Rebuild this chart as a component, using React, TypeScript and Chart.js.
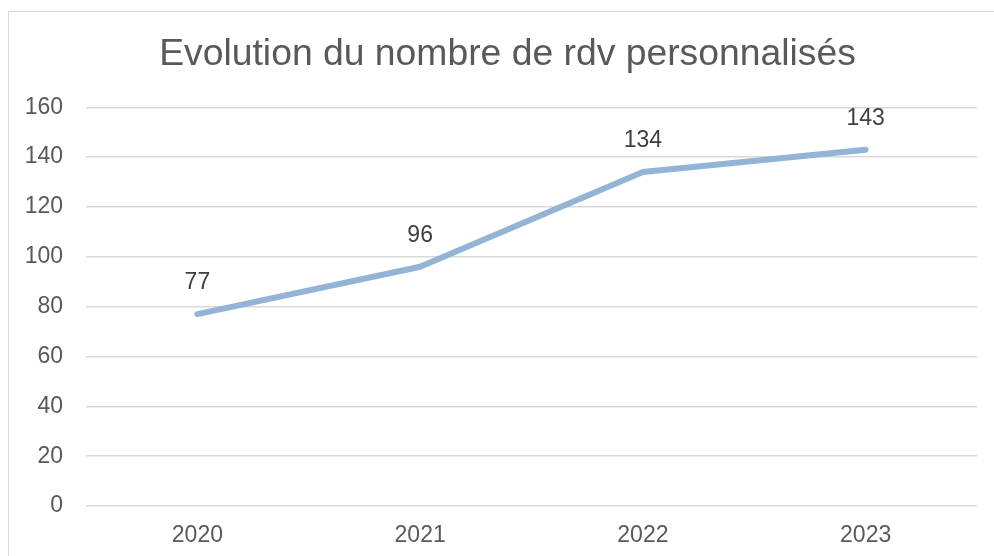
import React, { useEffect, useRef } from "react";
import { Chart, registerables } from "chart.js";

Chart.register(...registerables);

const TITLE = "Evolution du nombre de rdv personnalisés";
const categories = ["2020", "2021", "2022", "2023"];
const rdvValues = [77, 96, 134, 143];
const yMin = 0;
const yMax = 160;
const yStep = 20;

const FONT = "'Liberation Sans', Arial, Helvetica, sans-serif";

const dataLabelPlugin = {
  id: "dataLabels",
  afterDatasetsDraw(chart: any) {
    const ctx = chart.ctx;
    chart.data.datasets.forEach((ds: any, i: number) => {
      const meta = chart.getDatasetMeta(i);
      meta.data.forEach((pt: any, j: number) => {
        ctx.save();
        ctx.font = `23px ${FONT}`;
        ctx.fillStyle = "#404040";
        ctx.textAlign = "center";
        ctx.textBaseline = "middle";
        ctx.fillText(String(ds.data[j]), pt.x, pt.y - 31);
        ctx.restore();
      });
    });
  },
};

const titlePlugin = {
  id: "customTitle",
  afterDraw(chart: any) {
    const ctx = chart.ctx;
    ctx.save();
    ctx.font = `37.3px ${FONT}`;
    ctx.fillStyle = "#595959";
    ctx.textAlign = "center";
    ctx.textBaseline = "middle";
    ctx.fillText(TITLE, 498.5, 43);
    ctx.restore();
  },
};

export default function App() {
  const ref = useRef<HTMLCanvasElement>(null);
  useEffect(() => {
    if (!ref.current) return;
    const chart = new Chart(ref.current, {
      type: "line",
      data: {
        labels: categories,
        datasets: [
          {
            label: "rdv",
            data: rdvValues,
            borderColor: "#93B4D5",
            borderWidth: 6,
            borderCapStyle: "round",
            borderJoinStyle: "round",
            pointRadius: 0,
            pointHoverRadius: 0,
            tension: 0,
            fill: false,
          },
        ],
      },
      options: {
        responsive: false,
        animation: false,
        layout: { padding: { left: 0, right: 17, top: 95.3, bottom: 0 } },
        plugins: {
          legend: { display: false },
          tooltip: { enabled: false },
          title: { display: false },
        },
        scales: {
          x: {
            offset: true,
            grid: { display: false, drawTicks: false },
            border: { display: false },
            ticks: {
              color: "#595959",
              font: { family: FONT, size: 23 },
              padding: 16,
              maxRotation: 0,
            },
            afterFit(scale: any) {
              scale.height = 50;
            },
          },
          y: {
            min: yMin,
            max: yMax,
            grid: { color: "#d9d9d9", lineWidth: 1.5, drawTicks: false },
            border: { display: false },
            ticks: {
              stepSize: yStep,
              color: "#595959",
              font: { family: FONT, size: 23 },
              padding: 23,
            },
            afterFit(scale: any) {
              scale.width = 77;
            },
          },
        },
      },
      plugins: [dataLabelPlugin, titlePlugin],
    });
    return () => chart.destroy();
  }, []);

  return (
    <div
      style={{
        position: "fixed",
        left: 8,
        top: 11,
        width: 986,
        height: 545,
        borderTop: "1px solid #d9d9d9",
        borderLeft: "1px solid #d9d9d9",
        overflow: "hidden",
        background: "#fff",
      }}
    >
      <canvas ref={ref} width={985} height={544} style={{ display: "block", width: 985, height: 544 }} />
    </div>
  );
}
